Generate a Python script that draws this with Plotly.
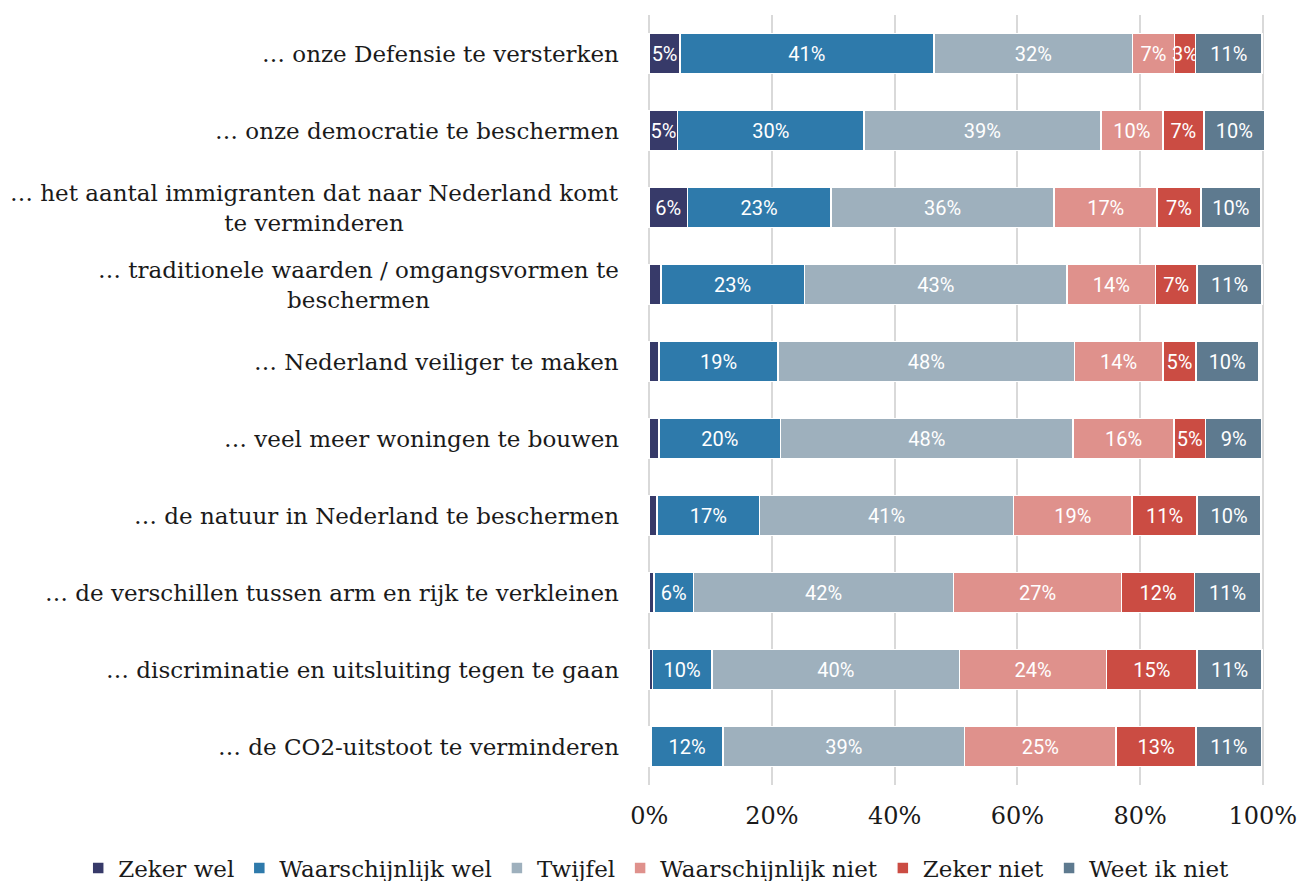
import plotly.graph_objects as go

categories = [
    "… onze Defensie te versterken",
    "… onze democratie te beschermen",
    "… het aantal immigranten dat naar Nederland komt<br>te verminderen",
    "… traditionele waarden / omgangsvormen te<br>beschermen",
    "… Nederland veiliger te maken",
    "… veel meer woningen te bouwen",
    "… de natuur in Nederland te beschermen",
    "… de verschillen tussen arm en rijk te verkleinen",
    "… discriminatie en uitsluiting tegen te gaan",
    "… de CO2-uitstoot te verminderen",
]

series_names = ["Zeker wel", "Waarschijnlijk wel", "Twijfel",
                "Waarschijnlijk niet", "Zeker niet", "Weet ik niet"]

zeker_wel = [5.0, 4.6, 6.2, 1.9, 1.6, 1.6, 1.3, 0.8, 0.5, 0.3]
waarschijnlijk_wel = [41.4, 30.4, 23.4, 23.4, 19.4, 19.8, 16.7, 6.4, 9.7, 11.7]
twijfel = [32.4, 38.6, 36.4, 42.8, 48.3, 47.7, 41.4, 42.4, 40.4, 39.4]
waarschijnlijk_niet = [6.8, 10.1, 16.8, 14.4, 14.4, 16.4, 19.3, 27.4, 23.9, 24.7]
zeker_niet = [3.4, 6.7, 7.1, 6.8, 5.4, 5.2, 10.6, 11.9, 14.8, 13.0]
weet_ik_niet = [10.9, 9.9, 9.8, 10.6, 10.2, 9.1, 10.4, 10.7, 10.6, 10.7]

series_values = [zeker_wel, waarschijnlijk_wel, twijfel,
                 waarschijnlijk_niet, zeker_niet, weet_ik_niet]
colors = ["#373a69", "#2e7aab", "#9eb0bd", "#df918c", "#cb4c43", "#5e7a8f"]

x_ticks = [0, 20, 40, 60, 80, 100]
x_ticklabels = ["0%", "20%", "40%", "60%", "80%", "100%"]

serif = "DejaVu Serif"

fig = go.Figure()
for name, vals, col in zip(series_names, series_values, colors):
    fig.add_trace(go.Bar(
        y=categories, x=vals, name=name, orientation="h",
        marker=dict(color=col, line=dict(color="white", width=1.5)),
        text=[f"{v:.0f}%" if v >= 3 else "" for v in vals],
        textposition="inside", insidetextanchor="middle", textangle=0,
        insidetextfont=dict(family="Roboto", size=20, color="white"),
        hoverinfo="skip",
    ))

for cat in categories:
    fig.add_annotation(
        x=0, xref="paper", y=cat, yref="y", text=cat, showarrow=False,
        xanchor="right", align="center", xshift=-27,
        font=dict(family=serif, size=23, color="#1a1a1a"),
    )

fig.update_layout(
    width=1300, height=881,
    barmode="stack", bargap=0.48,
    plot_bgcolor="white", paper_bgcolor="white",
    margin=dict(l=648, r=36, t=15, b=96, autoexpand=False),
    uniformtext=dict(minsize=20, mode="show"),
    showlegend=True,
    legend=dict(orientation="h", traceorder="normal",
                x=-0.925, xanchor="left", y=-0.108, yanchor="middle",
                font=dict(family=serif, size=23, color="#1a1a1a"),
                itemwidth=30, itemclick=False, itemdoubleclick=False),
    xaxis=dict(range=[-0.2, 100.2], tickvals=x_ticks, ticktext=x_ticklabels,
               showgrid=True, gridcolor="#d9d9d9", gridwidth=2,
               zeroline=False, showline=False, ticks="",
               ticklabelstandoff=14,
               tickfont=dict(family=serif, size=24, color="#1a1a1a")),
    yaxis=dict(autorange="reversed", showticklabels=False, showgrid=False,
               zeroline=False, showline=False, ticks=""),
)

fig.write_html("out.html", config={"displayModeBar": False},
               post_script="document.body.style.margin='0';document.body.style.overflow='hidden';")
